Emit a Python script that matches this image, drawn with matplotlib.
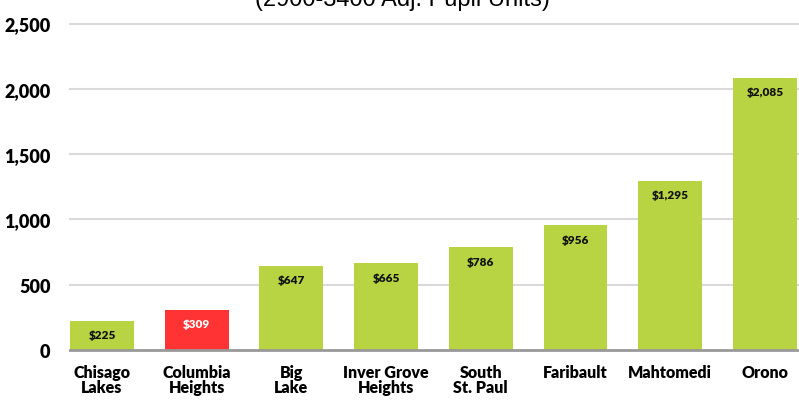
import matplotlib
matplotlib.use('Agg')
import matplotlib.pyplot as plt

# Districts and cost values
districts = ['Chisago\nLakes', 'Columbia\nHeights', 'Big\nLake', 'Inver Grove\nHeights',
             'South\nSt. Paul', 'Faribault', 'Mahtomedi', 'Orono']
values = [225, 309, 647, 665, 786, 956, 1295, 2085]
highlight = 'Columbia\nHeights'
yticks = [0, 500, 1000, 1500, 2000, 2500]

green = '#B8D443'
red = '#FF3333'

plt.rcParams['font.family'] = ['Lato', 'DejaVu Sans']

fig = plt.figure(figsize=(7.99, 4.02), dpi=100)
ax = fig.add_axes([70 / 799, 51 / 402, 729 / 799, 326.5 / 402])

x = list(range(len(districts)))
colors = [red if d == highlight else green for d in districts]
bars = ax.bar(x, values, width=0.675, color=colors, zorder=3)

for xi, v, d in zip(x, values, districts):
    ax.text(xi, v - 14 * 2500 / 326.5, f'${v:,}', ha='center', va='center',
            fontsize=8.5, fontweight='heavy',
            color='white' if d == highlight else '#111111', zorder=4)

ax.set_xlim(-0.338, 7.36)
ax.set_ylim(0, 2500)
ax.set_yticks(yticks)
ax.set_yticklabels([f'{t:,}' for t in yticks], fontsize=13, fontweight='heavy')
ax.set_xticks(x)
ax.set_xticklabels(districts, fontsize=11.5, fontweight='heavy', linespacing=0.95)
ax.tick_params(axis='y', length=0, pad=14)
ax.tick_params(axis='x', length=0, pad=10)

for t in yticks[1:]:
    ax.axhline(t, color='#D9D9D9', lw=1.5, zorder=1, clip_on=False)
ax.axhline(0, color='#999999', lw=2, zorder=5, clip_on=False)

for s in ax.spines.values():
    s.set_visible(False)

# Title, clipped at the top of the image
fig.text(0.504, 0.972, '(2900-3400 Adj. Pupil Units)', ha='center', va='bottom',
         fontsize=17, family=['Liberation Sans', 'DejaVu Sans'])

fig.savefig('out.png', dpi=100)
